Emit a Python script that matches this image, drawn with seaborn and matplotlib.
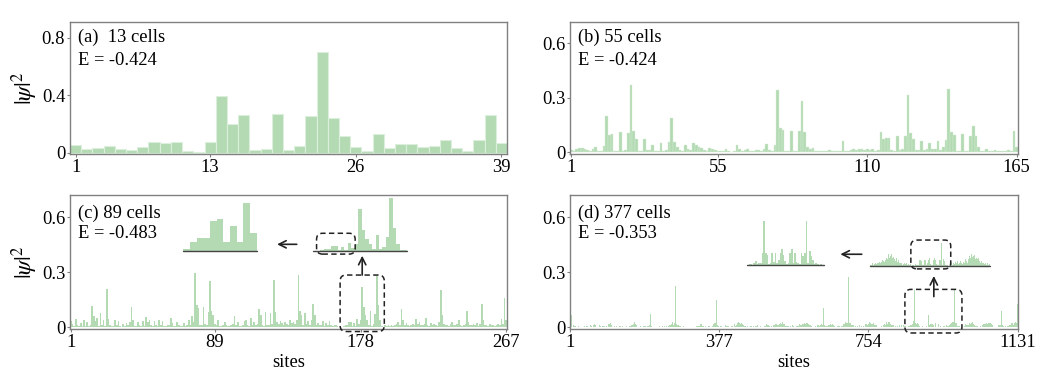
import numpy as np
import pandas as pd
import seaborn as sns
import matplotlib.pyplot as plt
from matplotlib.patches import FancyBboxPatch, FancyArrowPatch

# |psi|^2 per site
# panel (a): 13 cells -> 39 sites
a_psi2 = [0.052, 0.026, 0.033, 0.048, 0.024, 0.019, 0.038, 0.074, 0.064, 0.076,
          0.012, 0.007, 0.076, 0.390, 0.198, 0.260, 0.019, 0.026, 0.267, 0.021,
          0.043, 0.255, 0.700, 0.238, 0.117, 0.038, 0.010, 0.126, 0.031, 0.060,
          0.060, 0.038, 0.048, 0.088, 0.031, 0.012, 0.086, 0.262, 0.067]

# panels (b)-(d) in units of 1e-3
# (b): 55 cells -> 165 sites
b_psi2_milli = [
    10, 8, 15, 22, 22, 18, 10, 8, 15, 27, 6, 5, 35, 197, 95,
    100, 6, 8, 113, 8, 10, 108, 369, 119, 73, 8, 5, 73, 10, 12,
    40, 6, 5, 50, 8, 12, 58, 190, 55, 27, 10, 8, 37, 15, 12,
    48, 40, 30, 25, 10, 8, 24, 18, 10, 8, 5, 4, 18, 4, 3,
    8, 37, 20, 8, 10, 15, 4, 5, 12, 10, 8, 15, 45, 12, 8,
    42, 344, 133, 122, 5, 4, 119, 5, 6, 117, 283, 110, 27, 15, 25,
    8, 5, 6, 8, 5, 12, 8, 5, 6, 8, 64, 8, 6, 12, 15,
    12, 15, 15, 10, 18, 12, 20, 8, 10, 113, 70, 77, 80, 10, 8,
    88, 12, 15, 91, 314, 104, 73, 10, 12, 64, 10, 15, 49, 20, 15,
    64, 10, 30, 68, 351, 110, 97, 8, 5, 100, 6, 5, 91, 146, 88,
    27, 8, 5, 15, 8, 6, 12, 6, 5, 8, 5, 12, 8, 119, 30]

# (c): 89 cells -> 267 sites
c_psi2_milli = [
    36, 20, 10, 47, 12, 8, 23, 6, 41, 10, 32, 8, 12, 117, 60, 35, 50, 10, 77, 15,
    41, 8, 207, 45, 12, 10, 8, 38, 15, 36, 8, 5, 20, 10, 25, 12, 30, 110, 42, 10,
    8, 32, 12, 10, 36, 8, 56, 30, 42, 12, 8, 33, 15, 10, 38, 12, 36, 10, 8, 12,
    15, 50, 25, 10, 8, 32, 12, 8, 10, 22, 8, 12, 42, 15, 63, 30, 294, 123, 104, 15,
    12, 110, 20, 15, 86, 252, 92, 68, 20, 12, 38, 10, 8, 15, 32, 12, 8, 10, 15, 20,
    63, 12, 32, 10, 8, 15, 36, 40, 12, 10, 50, 15, 30, 12, 20, 100, 68, 15, 10, 86,
    15, 12, 77, 20, 258, 86, 30, 20, 36, 25, 15, 32, 20, 12, 38, 25, 30, 20, 40, 285,
    90, 70, 15, 80, 20, 35, 12, 40, 126, 70, 15, 25, 12, 15, 35, 10, 25, 12, 35, 15,
    8, 12, 15, 8, 5, 3, 2, 9, 12, 12, 28, 30, 9, 23, 9, 45, 17, 40, 222, 110,
    66, 40, 14, 87, 10, 20, 75, 281, 120, 40, 8, 5, 12, 10, 15, 8, 12, 10, 15, 20,
    30, 15, 100, 40, 12, 25, 15, 10, 12, 20, 15, 45, 20, 30, 12, 15, 20, 50, 15, 10,
    25, 12, 20, 15, 10, 30, 204, 70, 20, 12, 15, 10, 20, 30, 12, 15, 20, 40, 15, 10,
    12, 20, 90, 30, 15, 12, 20, 15, 25, 10, 20, 126, 40, 15, 12, 10, 20, 15, 12, 10,
    15, 20, 12, 45, 20, 162, 40]

# (d): 377 cells -> 1131 sites, 29 sites per line
d_psi2_milli = [
    40, 25, 12, 69, 15, 6, 3, 8, 15, 5, 2, 10, 4, 6, 12, 4, 3, 8, 5, 2, 12, 8, 47, 10, 4, 6, 3, 8, 4,
    2, 8, 3, 10, 5, 3, 12, 6, 54, 8, 3, 2, 8, 3, 5, 10, 3, 2, 6, 8, 3, 4, 12, 5, 2, 8, 3, 3, 10,
    6, 12, 15, 20, 128, 22, 14, 8, 3, 10, 5, 3, 8, 4, 2, 6, 12, 3, 3, 8, 5, 2, 10, 3, 6, 3, 8, 4, 2,
    8, 3, 5, 10, 3, 6, 12, 4, 8, 15, 18, 12, 20, 25, 159, 22, 15, 12, 8, 3, 5, 10, 3, 6, 2, 8, 4, 3, 8,
    3, 10, 5, 2, 6, 12, 3, 3, 8, 4, 2, 8, 5, 12, 3, 3, 6, 8, 2, 4, 10, 5, 3, 8, 3, 2, 6, 12, 4,
    3, 8, 5, 10, 3, 6, 12, 8, 15, 18, 12, 20, 15, 12, 25, 18, 15, 28, 22, 180, 20, 16, 12, 10, 8, 3, 6, 3, 8,
    4, 2, 8, 5, 10, 3, 3, 6, 12, 4, 2, 8, 5, 3, 8, 3, 10, 6, 2, 5, 12, 8, 3, 15, 10, 18, 12, 8, 6,
    74, 10, 8, 12, 4, 3, 8, 5, 2, 10, 3, 6, 3, 8, 12, 4, 2, 5, 8, 3, 3, 10, 6, 2, 8, 4, 3, 12, 5,
    3, 8, 3, 6, 2, 8, 10, 4, 12, 5, 3, 8, 15, 6, 3, 18, 10, 12, 20, 14, 8, 16, 25, 15, 18, 12, 28, 20, 18,
    14, 22, 25, 18, 30, 224, 28, 20, 24, 16, 12, 10, 15, 8, 6, 10, 4, 8, 3, 6, 5, 2, 8, 3, 3, 8, 4, 6, 2,
    6, 3, 4, 2, 1, 2, 1, 1, 2, 1, 3, 1, 2, 1, 1, 2, 1, 1, 3, 1, 2, 1, 1, 2, 3, 5, 2, 8, 4,
    8, 5, 10, 6, 12, 8, 15, 10, 14, 18, 20, 25, 153, 18, 12, 10, 8, 5, 8, 3, 3, 6, 2, 8, 4, 3, 8, 5, 2,
    6, 10, 3, 3, 8, 12, 5, 2, 8, 4, 15, 10, 18, 14, 20, 16, 25, 18, 28, 22, 25, 150, 22, 18, 15, 12, 8, 6, 12,
    5, 3, 8, 3, 10, 6, 2, 8, 4, 12, 3, 5, 8, 2, 6, 12, 3, 3, 10, 5, 8, 2, 4, 8, 6, 3, 15, 5, 3,
    10, 8, 3, 12, 6, 8, 4, 15, 10, 18, 12, 8, 20, 12, 16, 10, 25, 18, 15, 28, 20, 22, 30, 25, 18, 16, 22, 258, 25,
    20, 15, 18, 12, 14, 10, 8, 12, 6, 8, 4, 10, 3, 8, 5, 2, 6, 8, 3, 3, 10, 4, 2, 8, 5, 3, 6, 2, 8,
    3, 5, 8, 10, 6, 12, 8, 15, 60, 12, 8, 5, 10, 3, 3, 8, 6, 2, 8, 4, 12, 5, 3, 8, 3, 6, 12, 10, 15,
    8, 18, 12, 20, 92, 16, 12, 8, 14, 6, 10, 3, 8, 5, 3, 8, 4, 10, 2, 6, 12, 8, 5, 15, 8, 18, 12, 10, 20,
    14, 16, 25, 18, 15, 28, 20, 22, 18, 25, 16, 20, 18, 25, 28, 159, 25, 20, 16, 18, 12, 15, 10, 12, 8, 8, 5, 10, 3,
    6, 3, 8, 4, 2, 8, 5, 10, 3, 6, 12, 3, 2, 8, 5, 3, 8, 12, 4, 2, 6, 10, 3, 8, 12, 8, 15, 10, 18,
    12, 14, 20, 15, 12, 25, 18, 16, 28, 20, 18, 15, 25, 22, 18, 28, 20, 25, 18, 25, 159, 25, 20, 18, 15, 12, 10, 12, 8,
    8, 5, 10, 3, 6, 3, 8, 12, 4, 2, 8, 5, 10, 3, 6, 15, 8, 3, 12, 5, 8, 12, 6, 15, 10, 18, 12, 20, 16,
    25, 105, 20, 15, 12, 8, 6, 10, 3, 8, 5, 3, 8, 4, 12, 6, 10, 15, 8, 18, 12, 20, 14, 25, 18, 81, 16, 12, 10,
    8, 5, 8, 3, 6, 3, 10, 4, 8, 2, 6, 12, 3, 8, 5, 3, 12, 8, 10, 15, 8, 18, 12, 20, 15, 25, 18, 14, 28,
    20, 16, 25, 30, 22, 25, 28, 273, 28, 25, 20, 18, 22, 15, 12, 16, 10, 14, 8, 12, 5, 8, 3, 10, 6, 3, 8, 4, 2,
    8, 5, 10, 3, 6, 12, 3, 8, 2, 5, 8, 4, 12, 3, 6, 10, 8, 12, 5, 15, 8, 18, 10, 20, 12, 16, 14, 25, 18,
    15, 20, 28, 18, 22, 25, 16, 20, 25, 18, 30, 140, 22, 18, 15, 20, 12, 16, 10, 14, 8, 12, 5, 8, 3, 10, 6, 3, 8,
    4, 8, 2, 6, 12, 5, 10, 8, 15, 12, 18, 14, 20, 16, 25, 18, 28, 22, 20, 25, 30, 28, 159, 28, 25, 18, 20, 15, 12,
    16, 10, 14, 8, 12, 5, 8, 3, 10, 6, 3, 8, 4, 2, 8, 5, 10, 3, 6, 12, 3, 8, 5, 8, 12, 6, 10, 4, 8,
    12, 5, 8, 6, 3, 10, 4, 8, 2, 6, 8, 3, 5, 10, 8, 12, 8, 15, 12, 18, 14, 12, 22, 18, 25, 20, 35, 25, 204,
    30, 35, 25, 28, 20, 22, 16, 25, 12, 18, 10, 14, 8, 10, 4, 6, 8, 3, 5, 8, 3, 6, 4, 2, 5, 1, 2, 2, 1,
    3, 7, 2, 4, 3, 18, 67, 18, 16, 2, 3, 19, 5, 19, 3, 8, 18, 25, 16, 7, 2, 4, 18, 25, 4, 18, 5, 3, 2,
    19, 14, 18, 68, 4, 22, 14, 8, 2, 4, 2, 1, 2, 1, 6, 8, 4, 10, 8, 5, 12, 8, 14, 6, 10, 8, 15, 8, 5,
    12, 16, 8, 20, 14, 10, 22, 18, 30, 25, 35, 28, 30, 204, 32, 22, 25, 20, 25, 16, 14, 10, 15, 8, 8, 5, 6, 10, 4,
    8, 3, 8, 5, 3, 6, 10, 4, 12, 8, 15, 8, 18, 12, 14, 22, 18, 14, 25, 20, 16, 28, 22, 25, 28, 20, 30, 25, 30,
    159, 28, 22, 20, 25, 16, 14, 18, 10, 12, 8, 8, 5, 10, 3, 6, 3, 8, 4, 8, 2, 6, 10, 5, 12, 8, 15, 12, 18,
    14, 22, 18, 25, 20, 16, 28, 22, 25, 28, 20, 30, 25, 150, 28, 25, 20, 22, 16, 14, 18, 10, 14, 8, 12, 5, 8, 3, 10,
    6, 3, 8, 4, 8, 12, 5, 10, 15, 8, 18, 12, 22, 14, 18, 25, 87, 20, 14, 10, 15, 8, 12, 5, 8, 3, 6, 10, 4,
    8, 3, 8, 5, 12, 6, 10, 15, 8, 18, 12, 14, 22, 18, 14, 25, 20, 16, 28, 22, 25, 20, 28, 18, 30, 25, 28, 130, 70]

assert len(b_psi2_milli) == 165, len(b_psi2_milli)
assert len(c_psi2_milli) == 267, len(c_psi2_milli)
assert len(d_psi2_milli) == 1131, len(d_psi2_milli)

panel_labels = ['(a)  13 cells', '(b) 55 cells', '(c) 89 cells', '(d) 377 cells']
energies = ['E = -0.424', 'E = -0.424', 'E = -0.483', 'E = -0.353']
x_ticks = [[1, 13, 26, 39], [1, 55, 110, 165], [1, 89, 178, 267], [1, 377, 754, 1131]]

GREEN = '#b3dab3'
GREY = '#808080'
INK = '#222222'
FS = 13.3

sns.set_theme(style='ticks')
plt.rcParams['font.family'] = ['Liberation Serif', 'DejaVu Serif']
plt.rcParams['mathtext.fontset'] = 'stix'
plt.rcParams['font.size'] = FS
plt.rcParams['text.color'] = 'black'
plt.rcParams['axes.labelcolor'] = 'black'


def to_frame(vals):
    return pd.DataFrame({'site': np.arange(1, len(vals) + 1), 'psi2': vals})


def bars(ax, df, lo, hi, lw=0.0, ec='none'):
    sub = df[(df.site >= lo) & (df.site <= hi)]
    sns.barplot(data=sub, x='site', y='psi2', native_scale=True, width=1,
                color=GREEN, saturation=1, errorbar=None,
                linewidth=lw, edgecolor=ec, ax=ax)
    ax.set_xlim(lo - 0.5, hi + 0.5)
    ax.set_xlabel('')
    ax.set_ylabel('')


def dashed_box(ax, x0, x1, y0, y1):
    # corners in axes fraction, drawn with round corners in screen space
    bb = ax.get_window_extent()
    box = FancyBboxPatch((x0, y0), x1 - x0, y1 - y0,
                         boxstyle='round,pad=0,rounding_size=%f' % (6 / bb.width),
                         mutation_aspect=bb.width / bb.height,
                         transform=ax.transAxes, fill=False, lw=1.1,
                         ls=(0, (3.5, 2.2)), ec=INK, clip_on=False, zorder=5)
    ax.add_patch(box)


def data_box(ax, x0, x1, y0, y1):
    fx0, fy0 = ax.transLimits.transform((x0, y0))
    fx1, fy1 = ax.transLimits.transform((x1, y1))
    dashed_box(ax, fx0, fx1, fy0, fy1)


def arrow(ax, start, end):
    ax.add_patch(FancyArrowPatch(start, end, arrowstyle='->', lw=1.2, color=INK,
                                 mutation_scale=13, shrinkA=0, shrinkB=0,
                                 clip_on=False, zorder=6))


def inset(ax, df, bounds, lo, hi, ytop):
    axi = ax.inset_axes(bounds)
    bars(axi, df, lo, hi)
    axi.set_ylim(0, ytop)
    axi.axis('off')
    axi.patch.set_alpha(0)
    axi.plot([lo - 0.5, hi + 0.5], [0, 0], color='#444444', lw=1.0, clip_on=False)
    return axi


fig = plt.figure(figsize=(10.47, 3.78), dpi=100)
positions = [[0.0669, 0.5926, 0.4174, 0.350],
             [0.5444, 0.5926, 0.4279, 0.350],
             [0.0669, 0.1288, 0.4174, 0.3553],
             [0.5444, 0.1288, 0.4279, 0.3553]]
axes = [fig.add_axes(p) for p in positions]

frames = [to_frame(a_psi2),
          to_frame(np.array(b_psi2_milli) / 1000),
          to_frame(np.array(c_psi2_milli) / 1000),
          to_frame(np.array(d_psi2_milli) / 1000)]

for i, (ax, df) in enumerate(zip(axes, frames)):
    n = len(df)
    if i == 0:
        bars(ax, df, 1, n, lw=0.8, ec='#dcefdc')
        ax.set_ylim(-0.01, 0.91)
        ax.set_yticks([0, 0.4, 0.8], ['0', '0.4', '0.8'])
    else:
        bars(ax, df, 1, n, lw=0.3 if i == 1 else 0.0, ec='#d6ecd6' if i == 1 else 'none')
        ax.set_ylim(-0.01, 0.72)
        ax.set_yticks([0, 0.3, 0.6], ['0', '0.3', '0.6'])
    ax.set_xticks(x_ticks[i], [str(t) for t in x_ticks[i]])
    if i >= 2:
        ax.set_xlabel('sites', labelpad=2, fontsize=FS)
    if i in (0, 2):
        ax.set_ylabel(r'$|\psi|^2$', labelpad=1, fontsize=17)
    for s in ax.spines.values():
        s.set_visible(True)
        s.set_color(GREY)
        s.set_linewidth(1.0)
    ax.tick_params(direction='out', length=2, width=0.8, color=GREY,
                   labelcolor='black', labelsize=FS, pad=1.5)
    ytxt = (0.884, 0.703) if i < 2 else (0.866, 0.715)
    ax.text(0.018, ytxt[0], panel_labels[i], transform=ax.transAxes,
            ha='left', va='center')
    ax.text(0.018, ytxt[1], energies[i], transform=ax.transAxes,
            ha='left', va='center')

# zoom-in insets of panel (c)
ax_c = axes[2]
c_in1 = inset(ax_c, frames[2], [0.557, 0.581, 0.213, 0.419], 166, 192, 0.296)
c_in2 = inset(ax_c, frames[2], [0.259, 0.581, 0.168, 0.419], 167, 177, 0.0522)
data_box(ax_c, 165.5, 192.5, -0.022, 0.285)
x0 = c_in1.transLimits.transform((166.4, 0))[0]
x1 = c_in1.transLimits.transform((177.6, 0))[0]
dashed_box(c_in1, x0, x1, -0.05, 0.32)
arrow(ax_c, (179, 0.285), (179, 0.39))
arrow(ax_c, (139, 0.452), (127, 0.452))

# zoom-in insets of panel (d)
ax_d = axes[3]
d_in1 = inset(ax_d, frames[3], [0.669, 0.471, 0.269, 0.529], 846, 990, 0.209)
d_in2 = inset(ax_d, frames[3], [0.395, 0.477, 0.171, 0.523], 896, 942, 0.107)
data_box(ax_d, 846, 990, -0.03, 0.207)
x0 = d_in1.transLimits.transform((895, 0))[0]
x1 = d_in1.transLimits.transform((943, 0))[0]
dashed_box(d_in1, x0, x1, -0.04, 0.366)
arrow(ax_d, (919, 0.168), (919, 0.28))
arrow(ax_d, (737, 0.398), (683, 0.398))

fig.savefig('out.png', dpi=100)
